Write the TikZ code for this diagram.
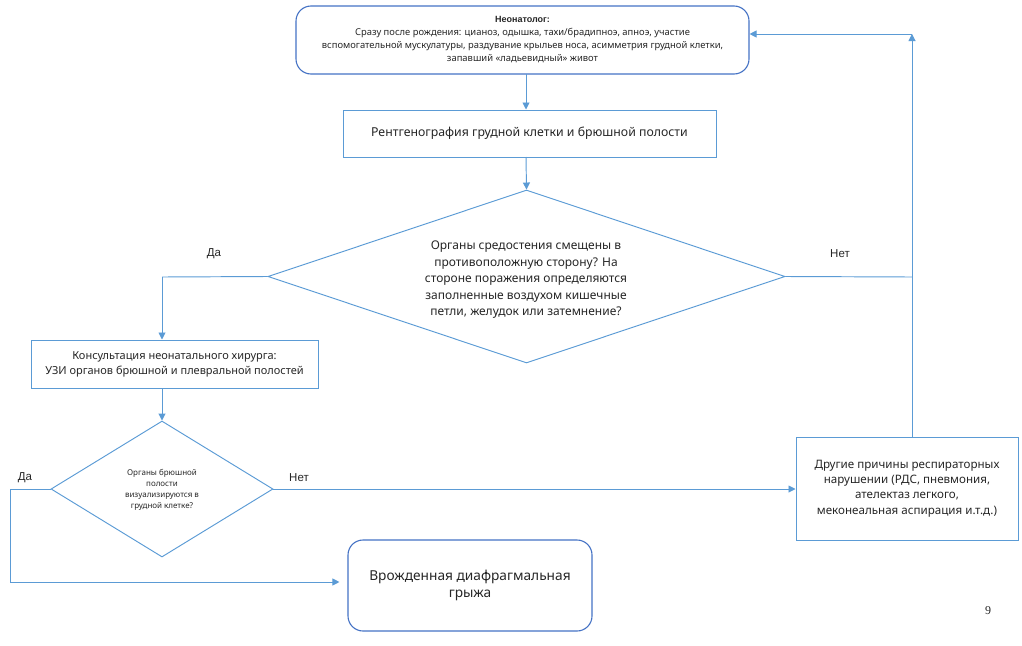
\documentclass[tikz,border=0pt]{standalone}
\usepackage{fontspec}
\setmainfont{Noto Sans}
\newfontfamily\arialf{Liberation Sans}
\newfontfamily\timesf{Liberation Serif}
\usetikzlibrary{shapes.geometric,arrows.meta}
\definecolor{lineblue}{HTML}{5B9BD5}
\definecolor{darkblue}{HTML}{4472C4}
\definecolor{txt}{HTML}{262626}
\tikzset{
  conn/.style={draw=lineblue, line width=0.95pt},
  arr/.style={conn, -{Triangle[width=7pt,length=7pt]}},
  rbox/.style={draw=darkblue, line width=1.1pt, rounded corners=15pt, align=center, text=txt, inner sep=0pt},
  sbox/.style={draw=lineblue, line width=1pt, align=center, text=txt, inner sep=0pt},
  dia/.style={draw=lineblue, line width=0.95pt, diamond, align=center, text=txt, inner sep=0pt},
  lbl/.style={text=txt, font=\arialf\fontsize{11.5}{13}\selectfont, inner sep=0pt}
}
\begin{document}
\begin{tikzpicture}[x=1pt,y=-1pt]
\useasboundingbox (0,0) rectangle (1022,645);

\node[rbox, minimum width=453pt, minimum height=68pt, font=\fontsize{9.4}{13}\selectfont] (neo) at (522.5,40)
 {{\arialf\bfseries\fontsize{9}{13}\selectfont Неонатолог:}\\Сразу после рождения: цианоз, одышка, тахи/брадипноэ, апноэ, участие\\вспомогательной мускулатуры, раздувание крыльев носа, асимметрия грудной клетки,\\запавший «ладьевидный» живот};

\node[sbox, minimum width=373pt, minimum height=47pt, font=\fontsize{12.3}{15}\selectfont] (xray) at (529.5,133.5)
 {Рентгенография грудной клетки и брюшной полости};

\node[dia, minimum width=517pt, minimum height=173pt] (d1) at (526.5,276.5) {};
\node[text=txt, align=center, font=\fontsize{12}{16.5}\selectfont] (d1t) at (526,280)
 {Органы средостения смещены в\\противоположную сторону? На\\стороне поражения определяются\\заполненные воздухом кишечные\\петли, желудок или затемнение?};

\node[sbox, minimum width=287pt, minimum height=48pt, font=\fontsize{11}{15}\selectfont] (cons) at (174.5,364)
 {Консультация неонатального хирурга:\\УЗИ органов брюшной и плевральной полостей};

\node[dia, minimum width=222pt, minimum height=136pt] (d2) at (162,489) {};
\node[text=txt, align=center, font=\fontsize{8}{11.2}\selectfont] (d2t) at (162,490)
 {Органы брюшной\\полости\\визуализируются в\\грудной клетке?};

\node[sbox, minimum width=222pt, minimum height=103pt, font=\fontsize{11.6}{15.2}\selectfont] (oth) at (907,488.5)
 {Другие причины респираторных\\нарушении (РДС, пневмония,\\ателектаз легкого,\\меконеальная аспирация и.т.д.)};

\node[rbox, minimum width=244pt, minimum height=91pt, font=\fontsize{13.7}{17}\selectfont] (cdh) at (470,585.5)
 {Врожденная диафрагмальная\\грыжа};

\coordinate (a0) at (526,74);
\coordinate (a1) at (526,157);
\coordinate (c1) at (162,277);
\coordinate (c2) at (912,277);
\coordinate (c3) at (912,34);
\coordinate (c4) at (10,489);
\coordinate (c5) at (10,582);

\draw[arr] (a0) -- (a0 |- xray.north);
\draw[arr] (a1) -- (d1.north);
\draw[conn] (d1.west) -- (c1);
\draw[arr] (c1) -- (c1 |- cons.north);
\draw[arr] (c1 |- cons.south) -- (d2.north);
\draw[conn] (d1.east) -- (c2);
\draw[arr] (oth.north -| c2) -- (c3);
\draw[arr] (c3) -- (neo.east |- c3);
\draw[arr] (d2.east) -- (oth.west |- d2.east);
\draw[conn] (d2.west) -- (c4) -- (c5);
\draw[arr] (c5) -- ([xshift=-8pt]cdh.west |- c5);

\node[lbl] (da1) at (214,254) {Да};
\node[lbl] (net1) at (840,254) {Нет};
\node[lbl] (da2) at (25,478) {Да};
\node[lbl] (net2) at (299,478) {Нет};
\node[text=txt, font=\timesf\fontsize{12}{14}\selectfont, inner sep=0pt] (pg) at (988,611) {9};
\end{tikzpicture}
\end{document}
